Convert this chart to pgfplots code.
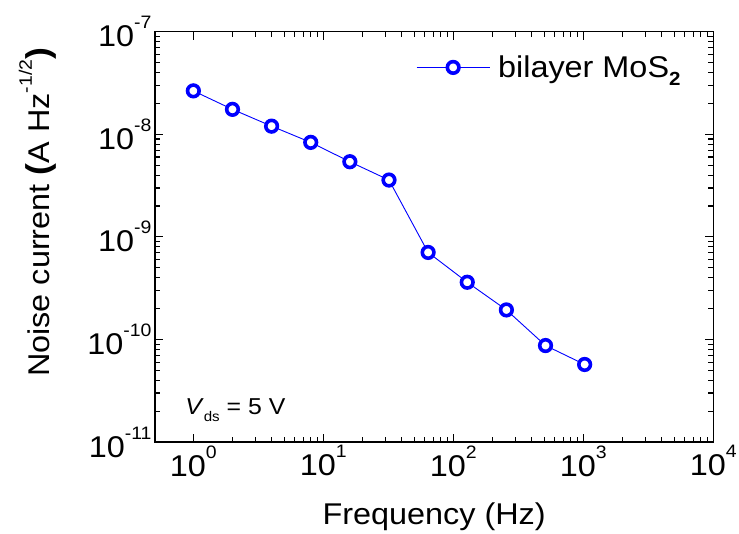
\documentclass[border=0pt]{standalone}
\usepackage{fontspec}
\setmainfont{Liberation Sans}[FakeStretch=1.08]
\usepackage{pgfplots}
\pgfplotsset{compat=1.18}
\definecolor{myblue}{RGB}{0,0,255}
\newcommand{\sups}[1]{\raisebox{0.6em}{\fontsize{18}{18}\selectfont #1}}
\newcommand{\subs}[1]{\raisebox{-0.25em}{\fontsize{19}{19}\selectfont\bfseries #1}}
\newcommand{\bpar}[1]{{\fontsize{33}{33}\selectfont\bfseries #1}}
\begin{document}
\begin{tikzpicture}
\begin{axis}[
  xmode=log, ymode=log,
  scale only axis, width=558.3pt, height=410.3pt,
  xmin=0.507, xmax=1e4, ymin=1e-11, ymax=1e-7,
  xtick={1,10,100,1000,10000},
  xticklabels={10\sups{0},10\sups{1},10\sups{2},10\sups{3},10\sups{4}},
  ytick={1e-11,1e-10,1e-9,1e-8,1e-7},
  yticklabels={10\sups{-11},10\sups{-10},10\sups{-9},10\sups{-8},10\sups{-7}},
  tick label style={font=\fontsize{30}{34}\selectfont},
  label style={font=\fontsize{30}{34}\selectfont},
  major tick length=8pt, minor tick length=5pt,
  axis line style={line width=1.5pt},
  tick style={line width=1.2pt, black},
  xlabel={Frequency (Hz)},
  xlabel style={at={(axis description cs:0.5,-0.202)}, anchor=base},
  ylabel={Noise current \bpar{(}A Hz\sups{-1/2}\bpar{)}},
  ylabel style={at={(axis description cs:-0.21,0.56)}, anchor=center},
  legend style={draw=none, fill=none, at={(axis description cs:0.4675,0.913)}, anchor=west, inner sep=0pt, font=\fontsize{30}{34}\selectfont},
  legend cell align=left,
  legend image code/.code={\draw[mark repeat=2,mark phase=2,#1] plot coordinates {(0pt,0pt) (36.5pt,0pt) (73pt,0pt)};},
]
\addplot[myblue, line width=0.9pt, mark=*, mark size=5.8pt, mark options={fill=white, draw=myblue, line width=3.6pt, solid}] coordinates {
(1,2.65e-8) (2,1.75e-8) (4,1.20e-8) (8,8.34e-9) (16,5.40e-9) (32,3.58e-9)
(64,7.05e-10) (128,3.61e-10) (256,1.94e-10) (512,8.72e-11) (1024,5.70e-11)
};
\addlegendentry{\hspace{6pt}bilayer MoS\subs{2}}
\node[anchor=base west, font=\fontsize{23}{26}\selectfont] at (axis description cs:0.048,0.066) {\textit{V}\raisebox{-0.3em}{\fontsize{14}{14}\selectfont ds} = 5 V};
\end{axis}
\pgfresetboundingbox
\path[use as bounding box] (-155pt,-92pt) rectangle (584pt,442pt);
\end{tikzpicture}
\end{document}
